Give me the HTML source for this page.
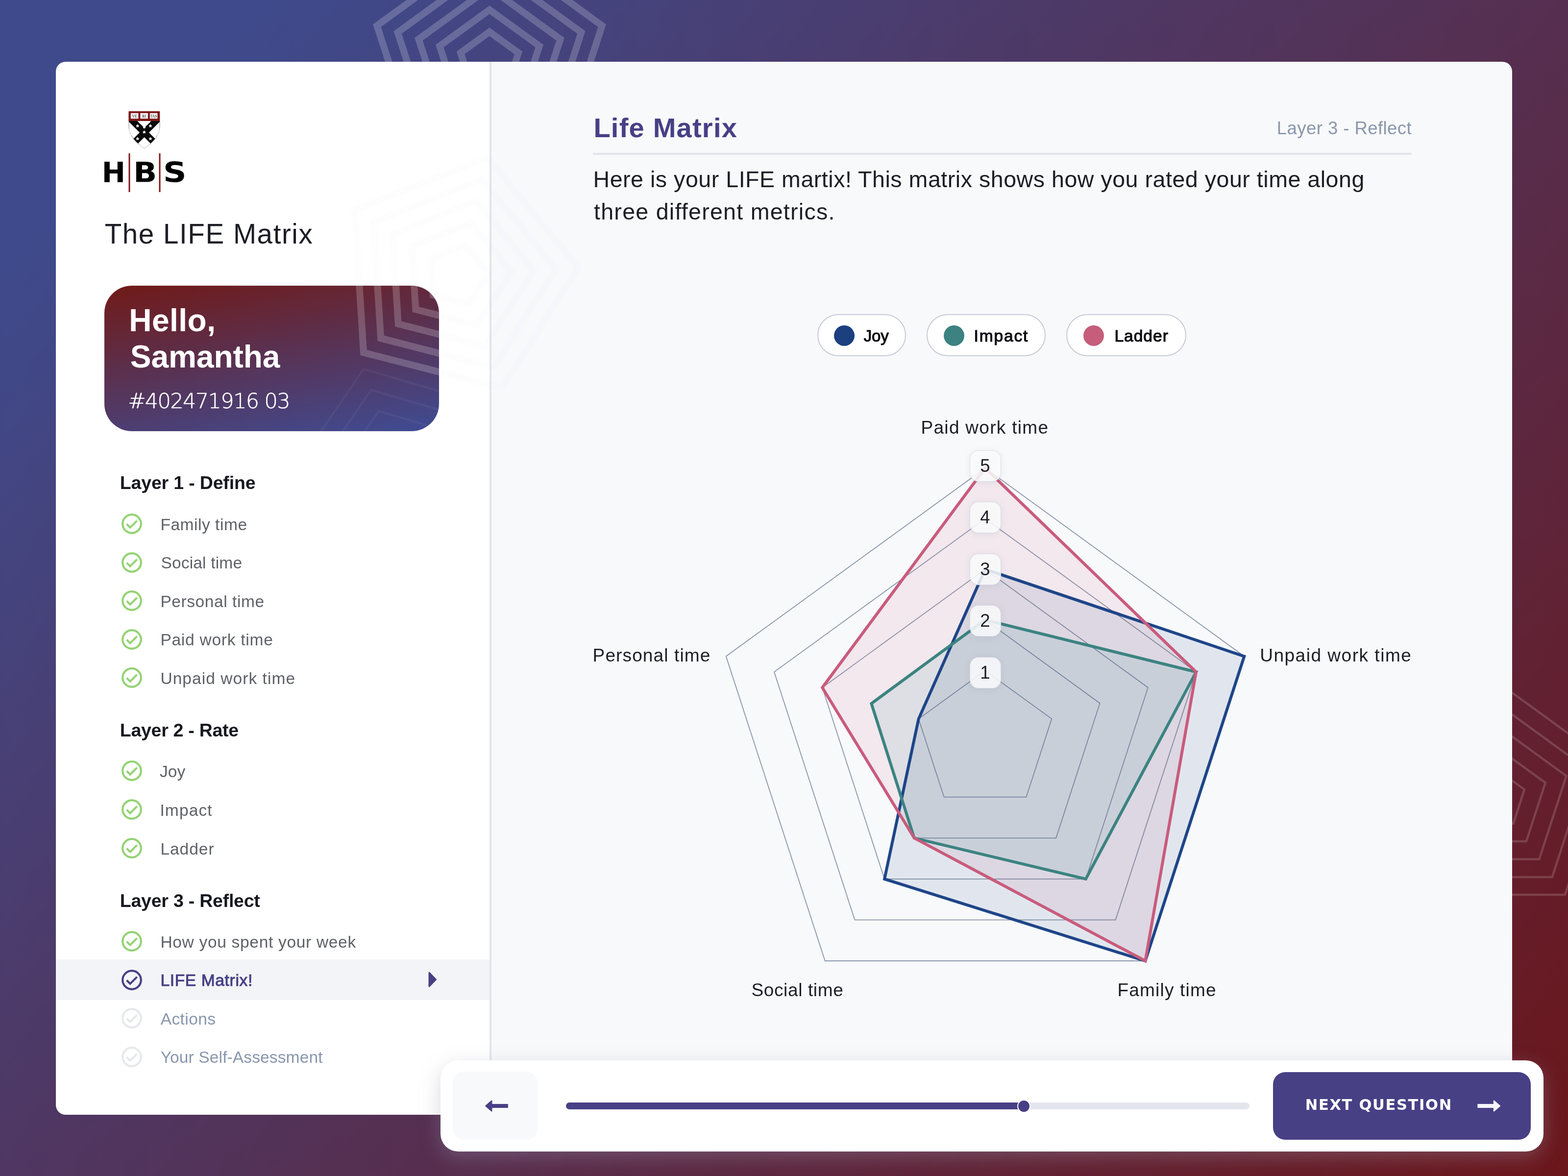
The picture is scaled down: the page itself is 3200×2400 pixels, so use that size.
<!DOCTYPE html>
<html lang="en">
<head>
<meta charset="utf-8">
<title>The LIFE Matrix</title>
<style>
*{box-sizing:border-box;margin:0;padding:0}
html,body{width:3200px;height:2400px;overflow:hidden}
body{position:relative;font-family:"Liberation Sans",sans-serif;background:linear-gradient(135deg,#3f4a8c 0%,#3f4a8c 10%,#6b161a 100%)}
.abs{position:absolute;display:block}
.t{position:absolute;white-space:nowrap;line-height:1}
#side{left:114px;top:126px;width:886px;height:2148.600px;background:#fff;border-radius:20px 0 0 20px}
#sep{left:999.300px;top:126px;width:4.200px;height:2148.600px;background:#e3e5ec}
#main{left:1003px;top:126px;width:2083px;height:2148.600px;background:#f8f9fb;border-radius:0 20px 20px 0}
#active{left:114px;top:1958.100px;width:885.300px;height:82.800px;background:#f3f4f7}
#hello{left:213px;top:583px;width:683px;height:297px;border-radius:56px;overflow:hidden;background:linear-gradient(170deg,#711a17 0%,#3f4c94 100%)}
#rule{left:1210px;top:312px;width:1671px;height:4px;background:#e1e4ea}
.pill{position:absolute;top:641.200px;height:86.200px;border:2px solid #c6cbd6;border-radius:43px;background:#fff}
.dot{position:absolute;top:663.5px;width:42px;height:42px;border-radius:50%}
.tick{position:absolute;width:64px;height:64px;border-radius:18px;background:rgba(248,249,251,.88);border:1.5px solid rgba(205,210,220,.75);box-shadow:0 2px 14px rgba(90,100,130,.10);font-size:36.5px;line-height:62px;text-align:center;color:#1d1d25}
#bar{left:899px;top:2164px;width:2251px;height:185.500px;border-radius:36px;background:#fff;box-shadow:0 12px 40px rgba(152,150,176,.36)}
#back{left:924px;top:2187px;width:173px;height:139px;border-radius:23px;background:#f8f9fb}
#next{left:2598px;top:2188px;width:526px;height:137.500px;border-radius:25px;background:#474085}
#track{left:1155px;top:2250px;width:1395px;height:14px;border-radius:7px;background:#e4e6ee}
#fill{left:1155px;top:2250px;width:934px;height:14px;border-radius:7px;background:#474085}
#knob{left:2076px;top:2243.500px;width:27.400px;height:27.400px;border-radius:50%;background:#474085;border:2px solid #fff}
</style>
</head>
<body>
<svg class="abs" style="left:0;top:0" width="3200" height="2400" viewBox="0 0 3200 2400"><polygon points="999.0,65.0 1058.0,107.8 1035.4,177.2 962.6,177.2 940.0,107.8" fill="none" stroke="rgba(255,255,255,0.2)" stroke-width="14" stroke-linejoin="miter"/><polygon points="999.0,20.0 1100.8,93.9 1061.9,213.6 936.1,213.6 897.2,93.9" fill="none" stroke="rgba(255,255,255,0.2)" stroke-width="14" stroke-linejoin="miter"/><polygon points="999.0,-25.0 1143.6,80.0 1088.3,250.0 909.7,250.0 854.4,80.0" fill="none" stroke="rgba(255,255,255,0.2)" stroke-width="14" stroke-linejoin="miter"/><polygon points="999.0,-70.0 1186.4,66.1 1114.8,286.4 883.2,286.4 811.6,66.1" fill="none" stroke="rgba(255,255,255,0.2)" stroke-width="14" stroke-linejoin="miter"/><polygon points="999.0,-114.5 1228.7,52.4 1141.0,322.4 857.0,322.4 769.3,52.4" fill="none" stroke="rgba(255,255,255,0.2)" stroke-width="14" stroke-linejoin="miter"/><polygon points="3052.0,1568.5 3111.0,1611.3 3088.4,1680.7 3015.6,1680.7 2993.0,1611.3" fill="none" stroke="rgba(255,255,255,0.16)" stroke-width="4.5" stroke-linejoin="miter"/><polygon points="3052.0,1523.5 3153.8,1597.4 3114.9,1717.1 2989.1,1717.1 2950.2,1597.4" fill="none" stroke="rgba(255,255,255,0.16)" stroke-width="4.5" stroke-linejoin="miter"/><polygon points="3052.0,1478.5 3196.6,1583.5 3141.3,1753.5 2962.7,1753.5 2907.4,1583.5" fill="none" stroke="rgba(255,255,255,0.16)" stroke-width="4.5" stroke-linejoin="miter"/><polygon points="3052.0,1433.5 3239.4,1569.6 3167.8,1789.9 2936.2,1789.9 2864.6,1569.6" fill="none" stroke="rgba(255,255,255,0.16)" stroke-width="4.5" stroke-linejoin="miter"/><polygon points="3052.0,1389.0 3281.7,1555.9 3194.0,1825.9 2910.0,1825.9 2822.3,1555.9" fill="none" stroke="rgba(255,255,255,0.16)" stroke-width="4.5" stroke-linejoin="miter"/></svg>
<div id="side" class="abs"></div>
<div id="sep" class="abs"></div>
<div id="main" class="abs"></div>
<div id="active" class="abs"></div>
<svg class="abs" style="left:114px;top:126px" width="2972" height="2149" viewBox="114 126 2972 2149"><polygon points="948.7,500.0 996.4,557.6 956.3,620.7 883.9,602.1 879.2,527.5" fill="none" stroke="rgba(110,120,160,0.012)" stroke-width="14" stroke-linejoin="miter"/><polygon points="960.2,455.3 1042.5,554.7 973.3,663.7 848.3,631.6 840.2,502.8" fill="none" stroke="rgba(110,120,160,0.012)" stroke-width="14" stroke-linejoin="miter"/><polygon points="971.7,410.5 1088.5,551.8 990.3,706.6 812.7,661.0 801.2,478.0" fill="none" stroke="rgba(110,120,160,0.012)" stroke-width="14" stroke-linejoin="miter"/><polygon points="983.2,365.8 1134.6,548.9 1007.3,749.5 777.2,690.4 762.2,453.3" fill="none" stroke="rgba(110,120,160,0.012)" stroke-width="14" stroke-linejoin="miter"/><polygon points="994.5,321.6 1180.2,546.0 1024.1,792.0 742.0,719.5 723.7,428.8" fill="none" stroke="rgba(110,120,160,0.012)" stroke-width="14" stroke-linejoin="miter"/></svg>

<!-- logo -->
<svg class="abs" style="left:200px;top:220px" width="200" height="180" viewBox="200 220 200 180">
  <defs><clipPath id="shc"><path d="M263 247 H326 V257 C326 276 313 290 294.500 302.600 C276 290 263 276 263 257 Z"/></clipPath></defs>
  <path d="M263 228 H326 V257 C326 276 313 290 294.500 302.600 C276 290 263 276 263 257 Z" fill="#fff" stroke="#4a4a4a" stroke-width="0.7"/>
  <g clip-path="url(#shc)">
    <path d="M264 240 L313 289 M325 240 L276 289" stroke="#0a0a0a" stroke-width="13.500" fill="none"/>
    <path d="M281 247 Q294.500 266 308 247 Z" fill="#fff"/>
    <circle cx="294.500" cy="259.500" r="2.600" fill="#fff"/>
    <path d="M263 262 Q272 268 275 276 L263 276 Z M326 262 Q317 268 314 276 L326 276 Z" fill="#fff"/>
    <g fill="#fff">
      <path d="M280.700 253.300 l1.300 2.200 2.300 .500 -1.700 1.600 .400 2.400 -2.300 -1.100 -2.300 1.100 .400 -2.400 -1.700 -1.600 2.300 -.500z"/>
      <path d="M306.900 253.300 l1.300 2.200 2.300 .500 -1.700 1.600 .400 2.400 -2.300 -1.100 -2.300 1.100 .400 -2.400 -1.700 -1.600 2.300 -.500z"/>
      <path d="M294.400 266 l1.300 2.200 2.300 .500 -1.700 1.600 .400 2.400 -2.300 -1.100 -2.300 1.100 .400 -2.400 -1.700 -1.600 2.300 -.500z"/>
      <path d="M280.700 279.500 l1.300 2.200 2.300 .500 -1.700 1.600 .400 2.400 -2.300 -1.100 -2.300 1.100 .400 -2.400 -1.700 -1.600 2.300 -.500z"/>
      <path d="M306.900 279.500 l1.300 2.200 2.300 .500 -1.700 1.600 .400 2.400 -2.300 -1.100 -2.300 1.100 .400 -2.400 -1.700 -1.600 2.300 -.500z"/>
    </g>
    <path d="M284.500 296 L294.500 284.500 L304.500 296 L294.500 304 Z" fill="#fff"/>
    <circle cx="294.500" cy="285.500" r="2.400" fill="#fff"/>
  </g>
  <rect x="262.600" y="227" width="63.400" height="20" fill="#7d1616"/>
  <rect x="266.800" y="230.800" width="15.600" height="11.400" fill="#f4f4f4"/>
  <rect x="286.300" y="230.800" width="15.600" height="11.400" fill="#f4f4f4"/>
  <rect x="305.800" y="230.800" width="15.600" height="11.400" fill="#f4f4f4"/>
  <text x="274.600" y="239.600" font-size="7.500" font-family="Liberation Serif, serif" text-anchor="middle" fill="#111">VE</text>
  <text x="294.100" y="239.600" font-size="7.500" font-family="Liberation Serif, serif" text-anchor="middle" fill="#111">RI</text>
  <text x="313.600" y="239.600" font-size="7.500" font-family="Liberation Serif, serif" text-anchor="middle" fill="#111">TAS</text>
  <rect x="262.500" y="313" width="3" height="79" fill="#7d1616"/>
  <rect x="324.500" y="313" width="3" height="79" fill="#7d1616"/>
  <text x="207.700" y="372" font-size="57.600" font-weight="700" font-family="DejaVu Sans, sans-serif" fill="#000">H</text>
  <text x="272.300" y="372" font-size="57.600" font-weight="700" font-family="DejaVu Sans, sans-serif" fill="#000" textLength="48" lengthAdjust="spacingAndGlyphs">B</text>
  <text x="333" y="372" font-size="57.600" font-weight="700" font-family="DejaVu Sans, sans-serif" fill="#000" textLength="47.500" lengthAdjust="spacingAndGlyphs">S</text>
</svg>

<div id="hello" class="abs"><svg class="abs" style="left:0;top:0" width="683" height="297" viewBox="213 583 683 297"><polygon points="948.7,500.0 996.4,557.6 956.3,620.7 883.9,602.1 879.2,527.5" fill="none" stroke="rgba(255,255,255,0.2)" stroke-width="14" stroke-linejoin="miter"/><polygon points="960.2,455.3 1042.5,554.7 973.3,663.7 848.3,631.6 840.2,502.8" fill="none" stroke="rgba(255,255,255,0.2)" stroke-width="14" stroke-linejoin="miter"/><polygon points="971.7,410.5 1088.5,551.8 990.3,706.6 812.7,661.0 801.2,478.0" fill="none" stroke="rgba(255,255,255,0.2)" stroke-width="14" stroke-linejoin="miter"/><polygon points="983.2,365.8 1134.6,548.9 1007.3,749.5 777.2,690.4 762.2,453.3" fill="none" stroke="rgba(255,255,255,0.2)" stroke-width="14" stroke-linejoin="miter"/><polygon points="994.5,321.6 1180.2,546.0 1024.1,792.0 742.0,719.5 723.7,428.8" fill="none" stroke="rgba(255,255,255,0.2)" stroke-width="14" stroke-linejoin="miter"/><polygon points="803.7,925.5 875.0,946.3 877.2,1020.6 807.3,1045.7 761.8,986.9" fill="none" stroke="rgba(255,255,255,0.045)" stroke-width="4.5" stroke-linejoin="miter"/><polygon points="788.2,882.2 911.4,918.3 915.2,1046.5 794.4,1089.8 715.9,988.2" fill="none" stroke="rgba(255,255,255,0.045)" stroke-width="4.5" stroke-linejoin="miter"/><polygon points="772.7,839.0 947.7,890.2 953.1,1072.4 781.5,1133.8 670.0,989.6" fill="none" stroke="rgba(255,255,255,0.045)" stroke-width="4.5" stroke-linejoin="miter"/><polygon points="757.3,795.8 984.0,862.1 991.0,1098.2 768.6,1177.9 624.1,991.0" fill="none" stroke="rgba(255,255,255,0.045)" stroke-width="4.5" stroke-linejoin="miter"/><polygon points="742.0,753.1 1019.9,834.4 1028.5,1123.8 755.9,1221.4 578.8,992.3" fill="none" stroke="rgba(255,255,255,0.045)" stroke-width="4.5" stroke-linejoin="miter"/></svg></div>

<div id="rule" class="abs"></div>

<div class="pill" style="left:1668px;width:181px"></div>
<div class="pill" style="left:1891px;width:243px"></div>
<div class="pill" style="left:2176px;width:245px"></div>
<div class="dot" style="left:1702px;background:#1b3f7f"></div>
<div class="dot" style="left:1925.500px;background:#3b8280"></div>
<div class="dot" style="left:2211px;background:#c55d7b"></div>

<svg class="abs" style="left:0;top:0" width="3200" height="2400" viewBox="0 0 3200 2400"><polygon points="2010.5,1368.4 2146.3,1467.1 2094.4,1626.7 1926.6,1626.7 1874.7,1467.1" fill="none" stroke="#8a96a9" stroke-width="1.8"/><polygon points="2010.5,1265.1 2244.6,1435.2 2155.2,1710.3 1865.8,1710.3 1776.4,1435.2" fill="none" stroke="#8a96a9" stroke-width="1.8"/><polygon points="2010.5,1161.8 2342.8,1403.2 2215.9,1793.9 1805.1,1793.9 1678.2,1403.2" fill="none" stroke="#8a96a9" stroke-width="1.8"/><polygon points="2010.5,1058.5 2441.0,1371.3 2276.6,1877.4 1744.4,1877.4 1580.0,1371.3" fill="none" stroke="#8a96a9" stroke-width="1.8"/><polygon points="2010.5,955.2 2539.3,1339.4 2337.3,1961.0 1683.7,1961.0 1481.7,1339.4" fill="none" stroke="#8a96a9" stroke-width="1.8"/><polygon points="2010.5,955.2 2441.0,1371.3 2337.3,1961.0 1865.8,1710.3 1678.2,1403.2" fill="#c95b7c" fill-opacity="0.1" stroke="none"/><polygon points="2010.5,1265.1 2441.0,1371.3 2215.9,1793.9 1865.8,1710.3 1778.4,1435.8" fill="#2a9296" fill-opacity="0.1" stroke="none"/><polygon points="2010.5,1161.8 2539.3,1339.4 2337.3,1961.0 1805.1,1793.9 1874.7,1467.1" fill="#1f4080" fill-opacity="0.1" stroke="none"/><polygon points="2010.5,1161.8 2539.3,1339.4 2337.3,1961.0 1805.1,1793.9 1874.7,1467.1" fill="none" stroke="#1e4588" stroke-width="6" stroke-linejoin="miter"/><polygon points="2010.5,1265.1 2441.0,1371.3 2215.9,1793.9 1865.8,1710.3 1778.4,1435.8" fill="none" stroke="#3b8381" stroke-width="6" stroke-linejoin="miter"/><polygon points="2010.5,955.2 2441.0,1371.3 2337.3,1961.0 1865.8,1710.3 1678.2,1403.2" fill="none" stroke="#c95b7c" stroke-width="6" stroke-linejoin="miter"/></svg>
<div class="tick" style="left:1978.5px;top:1340.7px">1</div><div class="tick" style="left:1978.5px;top:1235.2px">2</div><div class="tick" style="left:1978.5px;top:1129.7px">3</div><div class="tick" style="left:1978.5px;top:1024.2px">4</div><div class="tick" style="left:1978.5px;top:918.7px">5</div>
<svg class="abs" style="left:245.1px;top:1045.0px" width="48" height="48" viewBox="-24 -24 48 48"><circle r="18.8" fill="none" stroke="#93d273" stroke-width="4.2"/><path d="M-10.4 0.5 L-3.4 7.6 L10.6 -6.4" fill="none" stroke="#93d273" stroke-width="4.1" stroke-linejoin="miter"/></svg><svg class="abs" style="left:245.1px;top:1123.6px" width="48" height="48" viewBox="-24 -24 48 48"><circle r="18.8" fill="none" stroke="#93d273" stroke-width="4.2"/><path d="M-10.4 0.5 L-3.4 7.6 L10.6 -6.4" fill="none" stroke="#93d273" stroke-width="4.1" stroke-linejoin="miter"/></svg><svg class="abs" style="left:245.1px;top:1202.2px" width="48" height="48" viewBox="-24 -24 48 48"><circle r="18.8" fill="none" stroke="#93d273" stroke-width="4.2"/><path d="M-10.4 0.5 L-3.4 7.6 L10.6 -6.4" fill="none" stroke="#93d273" stroke-width="4.1" stroke-linejoin="miter"/></svg><svg class="abs" style="left:245.1px;top:1280.8px" width="48" height="48" viewBox="-24 -24 48 48"><circle r="18.8" fill="none" stroke="#93d273" stroke-width="4.2"/><path d="M-10.4 0.5 L-3.4 7.6 L10.6 -6.4" fill="none" stroke="#93d273" stroke-width="4.1" stroke-linejoin="miter"/></svg><svg class="abs" style="left:245.1px;top:1359.4px" width="48" height="48" viewBox="-24 -24 48 48"><circle r="18.8" fill="none" stroke="#93d273" stroke-width="4.2"/><path d="M-10.4 0.5 L-3.4 7.6 L10.6 -6.4" fill="none" stroke="#93d273" stroke-width="4.1" stroke-linejoin="miter"/></svg><svg class="abs" style="left:245.1px;top:1549.3px" width="48" height="48" viewBox="-24 -24 48 48"><circle r="18.8" fill="none" stroke="#93d273" stroke-width="4.2"/><path d="M-10.4 0.5 L-3.4 7.6 L10.6 -6.4" fill="none" stroke="#93d273" stroke-width="4.1" stroke-linejoin="miter"/></svg><svg class="abs" style="left:245.1px;top:1628.0px" width="48" height="48" viewBox="-24 -24 48 48"><circle r="18.8" fill="none" stroke="#93d273" stroke-width="4.2"/><path d="M-10.4 0.5 L-3.4 7.6 L10.6 -6.4" fill="none" stroke="#93d273" stroke-width="4.1" stroke-linejoin="miter"/></svg><svg class="abs" style="left:245.1px;top:1707.0px" width="48" height="48" viewBox="-24 -24 48 48"><circle r="18.8" fill="none" stroke="#93d273" stroke-width="4.2"/><path d="M-10.4 0.5 L-3.4 7.6 L10.6 -6.4" fill="none" stroke="#93d273" stroke-width="4.1" stroke-linejoin="miter"/></svg><svg class="abs" style="left:245.1px;top:1897.0px" width="48" height="48" viewBox="-24 -24 48 48"><circle r="18.8" fill="none" stroke="#93d273" stroke-width="4.2"/><path d="M-10.4 0.5 L-3.4 7.6 L10.6 -6.4" fill="none" stroke="#93d273" stroke-width="4.1" stroke-linejoin="miter"/></svg><svg class="abs" style="left:245.1px;top:1975.6px" width="48" height="48" viewBox="-24 -24 48 48"><circle r="18.8" fill="none" stroke="#474085" stroke-width="4.2"/><path d="M-10.4 0.5 L-3.4 7.6 L10.6 -6.4" fill="none" stroke="#474085" stroke-width="4.1" stroke-linejoin="miter"/></svg><svg class="abs" style="left:245.1px;top:2054.2px" width="48" height="48" viewBox="-24 -24 48 48"><circle r="18.8" fill="none" stroke="#e6e8ed" stroke-width="4.2"/><path d="M-10.4 0.5 L-3.4 7.6 L10.6 -6.4" fill="none" stroke="#e6e8ed" stroke-width="4.1" stroke-linejoin="miter"/></svg><svg class="abs" style="left:245.1px;top:2132.8px" width="48" height="48" viewBox="-24 -24 48 48"><circle r="18.8" fill="none" stroke="#e6e8ed" stroke-width="4.2"/><path d="M-10.4 0.5 L-3.4 7.6 L10.6 -6.4" fill="none" stroke="#e6e8ed" stroke-width="4.1" stroke-linejoin="miter"/></svg>

<svg class="abs" style="left:870px;top:1980px" width="26" height="40" viewBox="870 1980 26 40"><path d="M876 1985 L889.500 1999 L876 2013 Z" fill="#474085" stroke="#474085" stroke-width="3" stroke-linejoin="round"/></svg>

<div id="bar" class="abs"></div>
<div id="back" class="abs"></div>
<div id="track" class="abs"></div>
<div id="fill" class="abs"></div>
<div id="knob" class="abs"></div>
<div id="next" class="abs"></div>
<svg class="abs" style="left:980px;top:2236px" width="70" height="44" viewBox="980 2236 70 44"><path d="M1035.800 2254 H1003.300 V2246.600 L991.200 2257 L1003.300 2267.400 V2260 H1035.800 Z" fill="#474085" stroke="#474085" stroke-width="2.2" stroke-linejoin="round"/></svg>
<svg class="abs" style="left:3005px;top:2236px" width="70" height="44" viewBox="3005 2236 70 44"><path d="M3016.400 2254 H3048.900 V2246.600 L3061 2257 L3048.900 2267.400 V2260 H3016.400 Z" fill="#f6f6fb" stroke="#f6f6fb" stroke-width="2.2" stroke-linejoin="round"/></svg>

<div class="t" style="left:213.7px;top:450.2px;font-size:56.5px;font-weight:400;color:#1d1d25;letter-spacing:1.58px">The LIFE Matrix</div>
<div class="t" style="left:263.2px;top:621.6px;font-size:64px;font-weight:700;color:#ffffff;letter-spacing:0.51px">Hello,</div>
<div class="t" style="left:265.8px;top:696.3px;font-size:64px;font-weight:700;color:#ffffff;letter-spacing:-0.04px">Samantha</div>
<div class="t" style="left:261.4px;top:796.9px;font-size:43px;font-weight:200;color:#ffffff;letter-spacing:-1.61px;font-family:'DejaVu Sans',sans-serif;-webkit-text-stroke:0.6px #fff">#402471916 03</div>
<div class="t" style="left:244.8px;top:967.1px;font-size:37.5px;font-weight:700;color:#17171f;letter-spacing:-0.17px">Layer 1 - Define</div>
<div class="t" style="left:244.8px;top:1472.3px;font-size:37.5px;font-weight:700;color:#17171f;letter-spacing:-0.28px">Layer 2 - Rate</div>
<div class="t" style="left:244.8px;top:1819.8px;font-size:37.5px;font-weight:700;color:#17171f;letter-spacing:-0.23px">Layer 3 - Reflect</div>
<div class="t" style="left:1211.4px;top:233.1px;font-size:56px;font-weight:700;color:#474085;letter-spacing:1.24px">Life Matrix</div>
<div class="t" style="left:2605.8px;top:243.6px;font-size:36.5px;font-weight:400;color:#8a97ab;letter-spacing:0.44px">Layer 3 - Reflect</div>
<div class="t" style="left:1210.5px;top:343.2px;font-size:46.5px;font-weight:400;color:#1d1d25;letter-spacing:0.55px">Here is your LIFE martix! This matrix shows how you rated your time along</div>
<div class="t" style="left:1212.0px;top:409.2px;font-size:46.5px;font-weight:400;color:#1d1d25;letter-spacing:1.29px">three different metrics.</div>
<div class="t" style="left:1879.5px;top:853.5px;font-size:37px;font-weight:400;color:#1d1d25;letter-spacing:1.30px">Paid work time</div>
<div class="t" style="left:2571.2px;top:1318.9px;font-size:37px;font-weight:400;color:#1d1d25;letter-spacing:1.52px">Unpaid work time</div>
<div class="t" style="left:2280.5px;top:2002.0px;font-size:37px;font-weight:400;color:#1d1d25;letter-spacing:1.19px">Family time</div>
<div class="t" style="left:1533.4px;top:2001.8px;font-size:37px;font-weight:400;color:#1d1d25;letter-spacing:0.64px">Social time</div>
<div class="t" style="left:1209.6px;top:1318.9px;font-size:37px;font-weight:400;color:#1d1d25;letter-spacing:1.12px">Personal time</div>
<div class="t" style="left:1762.8px;top:669.1px;font-size:33px;font-weight:400;color:#0b0b10;letter-spacing:-0.18px;-webkit-text-stroke:1.15px #0b0b10">Joy</div>
<div class="t" style="left:1987.6px;top:668.6px;font-size:33.5px;font-weight:400;color:#0b0b10;letter-spacing:1.83px;-webkit-text-stroke:1.15px #0b0b10">Impact</div>
<div class="t" style="left:2274.4px;top:668.6px;font-size:33.5px;font-weight:400;color:#0b0b10;letter-spacing:1.03px;-webkit-text-stroke:1.15px #0b0b10">Ladder</div>
<div class="t" style="left:2663.7px;top:2240.0px;font-size:30.5px;font-weight:700;color:#ffffff;letter-spacing:1.68px;font-family:'DejaVu Sans',sans-serif">NEXT QUESTION</div>
<div class="t" style="left:327.4px;top:1053.6px;font-size:33.5px;font-weight:400;color:#5e6167;letter-spacing:0.54px">Family time</div>
<div class="t" style="left:328.4px;top:1132.2px;font-size:33.5px;font-weight:400;color:#5e6167;letter-spacing:0.18px">Social time</div>
<div class="t" style="left:327.4px;top:1210.8px;font-size:33.5px;font-weight:400;color:#5e6167;letter-spacing:0.57px">Personal time</div>
<div class="t" style="left:327.4px;top:1289.4px;font-size:33.5px;font-weight:400;color:#5e6167;letter-spacing:0.75px">Paid work time</div>
<div class="t" style="left:327.4px;top:1368.0px;font-size:33.5px;font-weight:400;color:#5e6167;letter-spacing:1.06px">Unpaid work time</div>
<div class="t" style="left:326.0px;top:1557.9px;font-size:33.5px;font-weight:400;color:#5e6167;letter-spacing:0.00px">Joy</div>
<div class="t" style="left:326.4px;top:1636.6px;font-size:33.5px;font-weight:400;color:#5e6167;letter-spacing:1.15px">Impact</div>
<div class="t" style="left:327.4px;top:1715.6px;font-size:33.5px;font-weight:400;color:#5e6167;letter-spacing:0.97px">Ladder</div>
<div class="t" style="left:327.4px;top:1905.6px;font-size:33.5px;font-weight:400;color:#5e6167;letter-spacing:0.69px">How you spent your week</div>
<div class="t" style="left:327.4px;top:1984.2px;font-size:33.5px;font-weight:400;color:#474085;letter-spacing:0.66px;-webkit-text-stroke:1.0px #474085">LIFE Matrix!</div>
<div class="t" style="left:327.7px;top:2062.8px;font-size:33.5px;font-weight:400;color:#8896ad;letter-spacing:0.40px">Actions</div>
<div class="t" style="left:327.7px;top:2141.4px;font-size:33.5px;font-weight:400;color:#8896ad;letter-spacing:0.13px">Your Self-Assessment</div>
</body>
</html>
